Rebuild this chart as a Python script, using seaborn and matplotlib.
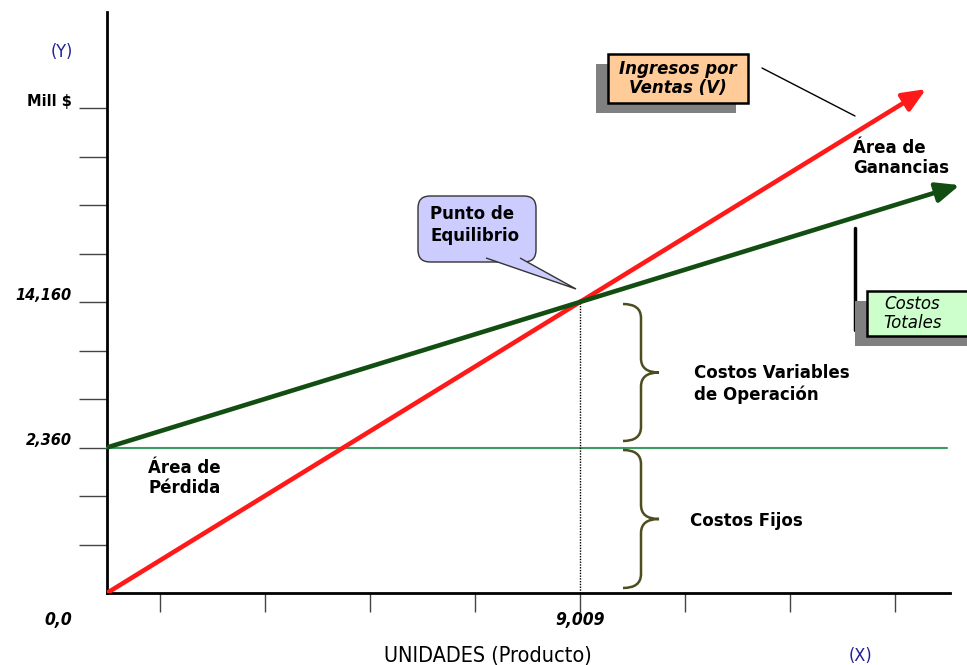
import matplotlib
matplotlib.use("Agg")
import matplotlib.pyplot as plt
import seaborn as sns
import pandas as pd
from matplotlib import font_manager
from matplotlib.patches import Rectangle, PathPatch, FancyBboxPatch
from matplotlib.path import Path
from matplotlib.transforms import Affine2D

# datos: unidades (eje X) y nivel esquematico del eje Y
unidades_ingresos = [0, 9009, 15600]
nivel_ingresos = [0, 6, 10.39]
unidades_costos = [0, 9009, 16240]
nivel_costos = [3, 6, 8.41]
nivel_fijos = 3
unidades_fijos = [0, 16000]
equilibrio_x = 9009
equilibrio_y = 6
x_ticks = [1009, 3009, 5009, 7009, 9009, 11009, 13009, 15009]
y_ticks = [1, 2, 3, 4, 5, 6, 7, 8, 9, 10]
y_tick_labels = {10: "Mill $", 6: "14,160", 3: "2,360"}
x_tick_labels = {9009: "9,009"}

rojo = "#ff1a1a"
verde = "#124d12"
azul = "#1f1f99"

W, H = 967, 665
sns.set_style("ticks")
plt.rcParams['font.family'] = ['DejaVu Sans']
plt.rcParams['text.color'] = 'black'

nombres = {f.name for f in font_manager.fontManager.ttflist}
angosta = "Liberation Sans Narrow" if "Liberation Sans Narrow" in nombres else "DejaVu Sans"

fig = plt.figure(figsize=(W / 100, H / 100), dpi=100)
ax = fig.add_axes([107 / W, 1 - 593 / H, (950 - 107) / W, (593 - 12) / H])
px = Affine2D().scale(1 / W, -1 / H).translate(0, 1) + fig.transFigure

ax.set_xlim(0, 16056)
ax.set_ylim(0, 581 / 48.5)

# lineas de ingresos y costos totales
df = pd.concat([
    pd.DataFrame({"unidades": unidades_ingresos[:2], "nivel": nivel_ingresos[:2], "serie": "Ingresos"}),
    pd.DataFrame({"unidades": unidades_costos[:2], "nivel": nivel_costos[:2], "serie": "Costos"}),
])
sns.lineplot(data=df, x="unidades", y="nivel", hue="serie",
             palette={"Ingresos": rojo, "Costos": verde}, lw=3.3,
             legend=False, ax=ax, zorder=4)
for xs, ys, c in [(unidades_ingresos, nivel_ingresos, rojo),
                  (unidades_costos, nivel_costos, verde)]:
    ax.annotate("", xy=(xs[-1], ys[-1]), xytext=(xs[-2], ys[-2]),
                arrowprops=dict(arrowstyle="-|>,head_length=1.4,head_width=0.6",
                                color=c, lw=3.3, shrinkA=0, shrinkB=0),
                annotation_clip=False, zorder=4)

# costos fijos y punto de equilibrio
ax.plot(unidades_fijos, [nivel_fijos] * 2, color="#3c9a64", lw=1.5, clip_on=False, zorder=3)
ax.plot([equilibrio_x, equilibrio_x], [0, equilibrio_y], color="black", lw=1,
        ls=(0, (1, 1)), zorder=3)

# ejes
sns.despine(ax=ax)
for s in ["left", "bottom"]:
    ax.spines[s].set_linewidth(2)
    ax.spines[s].set_color("black")
ax.set_xticks(x_ticks)
ax.set_yticks(y_ticks)
ax.set_xticklabels([])
ax.set_yticklabels([])
ax.tick_params(axis="y", length=20, width=1, color="#444444", direction="out")
ax.tick_params(axis="x", length=14, width=1, color="#444444", direction="out")
ax.set_xlabel("")
ax.set_ylabel("")

ytr = ax.get_yaxis_transform()
for v, t in y_tick_labels.items():
    ax.text(-0.042, v + 0.14, t, transform=ytr, ha="right", va="center",
            fontsize=10.5, fontweight="bold",
            style="normal" if t == "Mill $" else "italic")
xtr = ax.get_xaxis_transform()
for v, t in x_tick_labels.items():
    ax.text(v, -0.047, t, transform=xtr, ha="center", va="center", family=angosta,
            fontstretch="condensed", fontsize=12.5, fontweight="bold", style="italic")
ax.text(72, 620, "0,0", transform=px, ha="right", va="center", family=angosta,
        fontstretch="condensed", fontsize=12.5, fontweight="bold", style="italic")

ax.text(488, 656, "UNIDADES (Producto)", transform=px, ha="center", va="center",
        fontsize=15.5, family=angosta, fontstretch="condensed")
ax.text(860, 656, "(X)", transform=px, ha="center", va="center", fontsize=13,
        color=azul, family=angosta, fontstretch="condensed")
ax.text(62, 52, "(Y)", transform=px, ha="center", va="center", fontsize=13,
        color=azul, family=angosta, fontstretch="condensed")

# cajas con sombra
def caja(x0, y0, x1, y1, fc, texto, peso):
    ax.add_patch(Rectangle((x0 - 12, y0 + 10), x1 - x0, y1 - y0, transform=px,
                           fc="#808080", ec="none", clip_on=False, zorder=6))
    ax.add_patch(Rectangle((x0, y0), x1 - x0, y1 - y0, transform=px,
                           fc=fc, ec="black", lw=1.8, clip_on=False, zorder=7))
    ax.text((x0 + min(x1, 958)) / 2, (y0 + y1) / 2, texto, transform=px, ha="center",
            va="center", fontsize=12, fontweight=peso, style="italic",
            linespacing=1.1, zorder=8)

ax.plot([762, 855], [68, 116], transform=px, color="black", lw=1, clip_on=False, zorder=5)
caja(608, 54, 748, 103, "#ffcc99", "Ingresos por\nVentas (V)", "bold")
ax.plot([855, 855], [228, 330], transform=px, color="black", lw=2.5, clip_on=False, zorder=5)
caja(867, 291, 980, 336, "#ccffcc", "Costos\nTotales", "normal")

# globo del punto de equilibrio
ax.add_patch(FancyBboxPatch((418, 196), 118, 66, boxstyle="round,pad=0,rounding_size=12",
                            transform=px, fc="#ccccff", ec="#333333", lw=1,
                            clip_on=False, zorder=6))
globo = Path([(486, 258), (576, 289), (520, 258)], [Path.MOVETO, Path.LINETO, Path.LINETO])
ax.add_patch(PathPatch(globo, transform=px, fc="#ccccff", ec="#333333", lw=1,
                       clip_on=False, zorder=6))
ax.text(430, 225, "Punto de\nEquilibrio", transform=px, ha="left", va="center",
        fontsize=12, fontweight="bold", linespacing=1.25, zorder=7)

# llaves
def llave(ya, yb, x0=623, x1=659, r=14):
    xm = (x0 + x1) / 2
    ym = (ya + yb) / 2
    v = [(x0, ya), (xm, ya), (xm, ya + r), (xm, ym - r), (xm, ym), (x1, ym),
         (xm, ym), (xm, ym + r), (xm, yb - r), (xm, yb), (x0, yb)]
    c = [Path.MOVETO, Path.CURVE3, Path.CURVE3, Path.LINETO, Path.CURVE3, Path.CURVE3,
         Path.CURVE3, Path.CURVE3, Path.LINETO, Path.CURVE3, Path.CURVE3]
    ax.add_patch(PathPatch(Path(v, c), transform=px, fill=False, ec="#4d4d1f", lw=1.8,
                           clip_on=False, zorder=5))

llave(304, 441)
llave(450, 588)

etq = dict(transform=px, ha="left", va="center", fontsize=12, fontweight="bold",
           linespacing=1.2, zorder=5)
ax.text(694, 384, "Costos Variables\nde Operación", **etq)
ax.text(690, 521, "Costos Fijos", **etq)
ax.text(148, 478, "Área de\nPérdida", **etq)
ax.text(853, 158, "Área de\nGanancias", **etq)

fig.savefig("out.png", dpi=100)
